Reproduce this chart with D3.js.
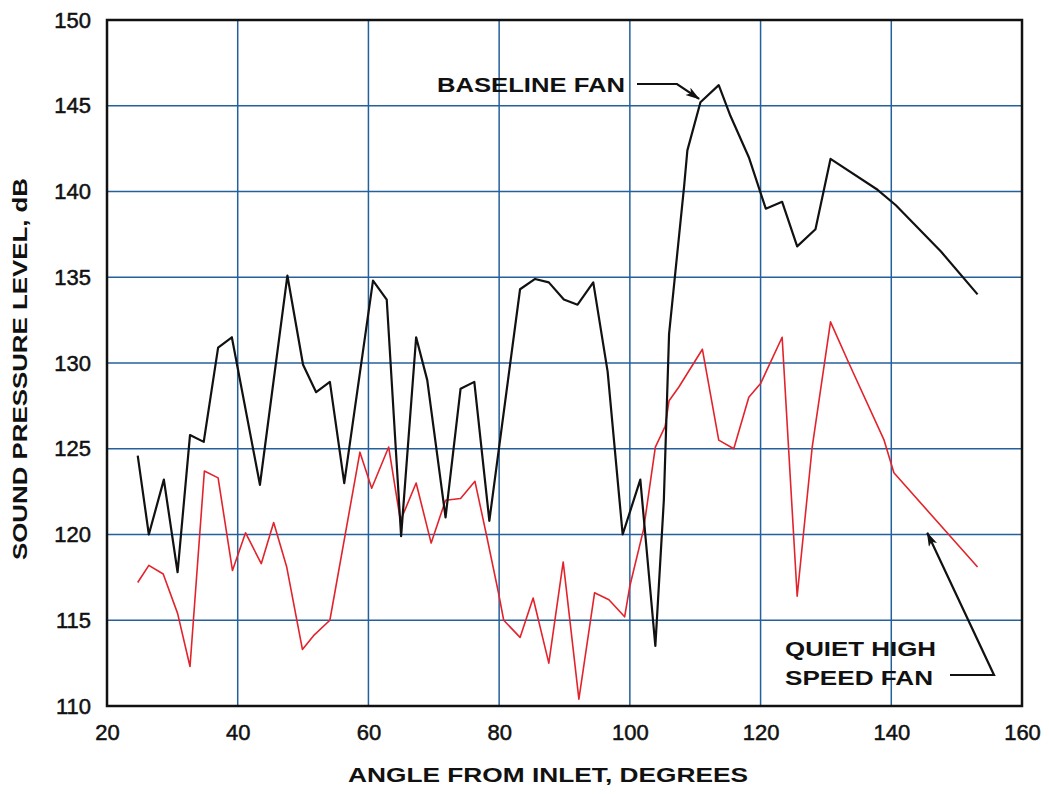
<!DOCTYPE html>
<html>
<head>
<meta charset="utf-8">
<script src="https://cdn.jsdelivr.net/npm/d3@7"></script>
<style>
  body { margin: 0; background: #fff; }
  svg { display: block; font-family: 'Liberation Sans', Arial, Helvetica, sans-serif; }
</style>
</head>
<body>
<svg width="1049" height="794"></svg>
<script>
// values
const baselineAngle = [24.7, 26.4, 28.7, 30.8, 32.7, 34.8, 37.0, 39.1, 43.4, 47.6, 50.0, 52.0, 54.1,
  56.3, 60.7, 62.8, 65.0, 67.3, 69.0, 71.8, 74.1, 76.2, 78.5, 83.2, 85.5, 87.6, 89.9, 92.0, 94.4,
  96.6, 98.9, 101.6, 103.9, 105.2, 106.0, 108.3, 108.8, 110.8, 113.6, 115.4, 118.2, 120.8, 123.3,
  125.6, 128.4, 130.7, 137.9, 140.7, 147.6, 153.2]
const baselineSpl = [124.6, 120.0, 123.2, 117.8, 125.8, 125.4, 130.9, 131.5, 122.9, 135.1, 129.9, 128.3, 128.9,
  123.0, 134.8, 133.7, 119.9, 131.5, 129.0, 121.0, 128.5, 128.9, 120.8, 134.3, 134.9, 134.7, 133.7, 133.4, 134.7,
  129.5, 120.0, 123.2, 113.5, 122.0, 131.7, 140.3, 142.4, 145.2, 146.2, 144.4, 142.0, 139.0, 139.4,
  136.8, 137.8, 141.9, 140.1, 139.2, 136.5, 134.0]

const quietAngle = [24.7, 26.4, 28.6, 30.8, 32.7, 34.9, 37.0, 39.2, 41.2, 43.6, 45.5, 47.5, 49.9, 51.6, 54.1,
  58.7, 60.5, 63.1, 64.9, 67.3, 69.6, 71.8, 74.1, 76.3, 78.1, 79.9, 80.7, 83.2, 85.2, 87.6, 89.8, 92.2,
  94.6, 96.8, 99.2, 100.0, 102.1, 103.9, 105.4, 106.0, 107.5, 111.1, 113.6, 115.9, 118.2, 120.0, 123.3,
  125.6, 127.9, 130.7, 133.5, 138.9, 140.4, 153.2]
const quietSpl = [117.2, 118.2, 117.7, 115.4, 112.3, 123.7, 123.3, 117.9, 120.1, 118.3, 120.7, 118.1, 113.3, 114.1, 115.0,
  124.8, 122.7, 125.1, 120.8, 123.0, 119.5, 122.0, 122.1, 123.1, 119.9, 116.6, 115.0, 114.0, 116.3, 112.5, 118.4, 110.4,
  116.6, 116.2, 115.2, 117.0, 120.3, 125.1, 126.3, 127.8, 128.6, 130.8, 125.5, 125.0, 128.0, 128.8, 131.5,
  116.4, 125.1, 132.4, 130.0, 125.5, 123.6, 118.1]

const xTicks = [20, 40, 60, 80, 100, 120, 140, 160]
const yTicks = [110, 115, 120, 125, 130, 135, 140, 145, 150]

let svg = d3.select('svg')
let pLeft = 107, pTop = 20, pRight = 1022, pBottom = 706

let x = d3.scaleLinear().domain([20, 160]).range([pLeft, pRight])
let y = d3.scaleLinear().domain([110, 150]).range([pBottom, pTop])

let grid = '#24609c'

// grid
svg.append('g')
  .selectAll('line')
  .data(xTicks.slice(1, -1))
  .enter().append('line')
    .attr('x1', d => x(d)).attr('x2', d => x(d))
    .attr('y1', pTop).attr('y2', pBottom)
    .attr('stroke', grid).attr('stroke-width', 1.5)

svg.append('g')
  .selectAll('line')
  .data(yTicks.slice(1, -1))
  .enter().append('line')
    .attr('x1', pLeft).attr('x2', pRight)
    .attr('y1', d => y(d)).attr('y2', d => y(d))
    .attr('stroke', grid).attr('stroke-width', 1.5)

// axes, labels only (frame is drawn separately)
let xAxis = svg.append('g')
  .attr('transform', 'translate(0,' + pBottom + ')')
  .call(d3.axisBottom(x).tickValues(xTicks).tickSize(0).tickPadding(14))
let yAxis = svg.append('g')
  .attr('transform', 'translate(' + pLeft + ',0)')
  .call(d3.axisLeft(y).tickValues(yTicks).tickSize(0).tickPadding(16))

svg.selectAll('.domain').remove()
svg.selectAll('.tick text')
  .attr('font-size', 22)
  .attr('font-family', "'Liberation Sans', Arial, sans-serif")
  .attr('fill', '#111')
  .attr('stroke', '#111')
  .attr('stroke-width', 0.5)
xAxis.selectAll('.tick text').attr('dy', '0.9em')

// frame
svg.append('rect')
  .attr('x', pLeft).attr('y', pTop)
  .attr('width', pRight - pLeft).attr('height', pBottom - pTop)
  .attr('fill', 'none').attr('stroke', '#111').attr('stroke-width', 2.5)

// series
let line = d3.line()
  .x(d => x(d[0]))
  .y(d => y(d[1]))

svg.append('path')
  .datum(quietAngle.map((a, i) => [a, quietSpl[i]]))
  .attr('d', line)
  .attr('fill', 'none')
  .attr('stroke', '#e3232c')
  .attr('stroke-width', 1.6)
  .attr('stroke-linejoin', 'round')

svg.append('path')
  .datum(baselineAngle.map((a, i) => [a, baselineSpl[i]]))
  .attr('d', line)
  .attr('fill', 'none')
  .attr('stroke', '#111')
  .attr('stroke-width', 2.2)
  .attr('stroke-linejoin', 'round')

// axis titles
svg.append('text')
  .text('ANGLE FROM INLET, DEGREES')
  .attr('x', 348).attr('y', 782)
  .attr('textLength', 400).attr('lengthAdjust', 'spacingAndGlyphs')
  .attr('font-size', 21).attr('font-weight', 700).attr('fill', '#111')

svg.append('text')
  .text('SOUND PRESSURE LEVEL, dB')
  .attr('transform', 'translate(27,560) rotate(-90)')
  .attr('textLength', 382).attr('lengthAdjust', 'spacingAndGlyphs')
  .attr('font-size', 21).attr('font-weight', 700).attr('fill', '#111')

// annotations
let defs = svg.append('defs')
defs.append('marker')
  .attr('id', 'head')
  .attr('viewBox', '0 0 16 10')
  .attr('refX', 15).attr('refY', 5)
  .attr('markerWidth', 16).attr('markerHeight', 9)
  .attr('markerUnits', 'userSpaceOnUse')
  .attr('orient', 'auto')
  .append('path').attr('d', 'M0,0 L16,5 L0,10 L4,5 Z').attr('fill', '#111')

svg.append('text')
  .text('BASELINE FAN')
  .attr('x', 437).attr('y', 92)
  .attr('textLength', 188).attr('lengthAdjust', 'spacingAndGlyphs')
  .attr('font-size', 20).attr('font-weight', 700).attr('fill', '#111')

svg.append('path')
  .attr('d', 'M637,84 L677,84 L' + x(110.6) + ',' + y(145.4))
  .attr('fill', 'none').attr('stroke', '#111').attr('stroke-width', 2.2)
  .attr('marker-end', 'url(#head)')

svg.append('text')
  .text('QUIET HIGH')
  .attr('x', 785).attr('y', 656)
  .attr('textLength', 151).attr('lengthAdjust', 'spacingAndGlyphs')
  .attr('font-size', 20).attr('font-weight', 700).attr('fill', '#111')

svg.append('text')
  .text('SPEED FAN')
  .attr('x', 785).attr('y', 685)
  .attr('textLength', 148).attr('lengthAdjust', 'spacingAndGlyphs')
  .attr('font-size', 20).attr('font-weight', 700).attr('fill', '#111')

svg.append('path')
  .attr('d', 'M950,675 L994,675 L' + x(145.5) + ',' + y(120.1))
  .attr('fill', 'none').attr('stroke', '#111').attr('stroke-width', 2.2)
  .attr('marker-end', 'url(#head)')
</script>
</body>
</html>
